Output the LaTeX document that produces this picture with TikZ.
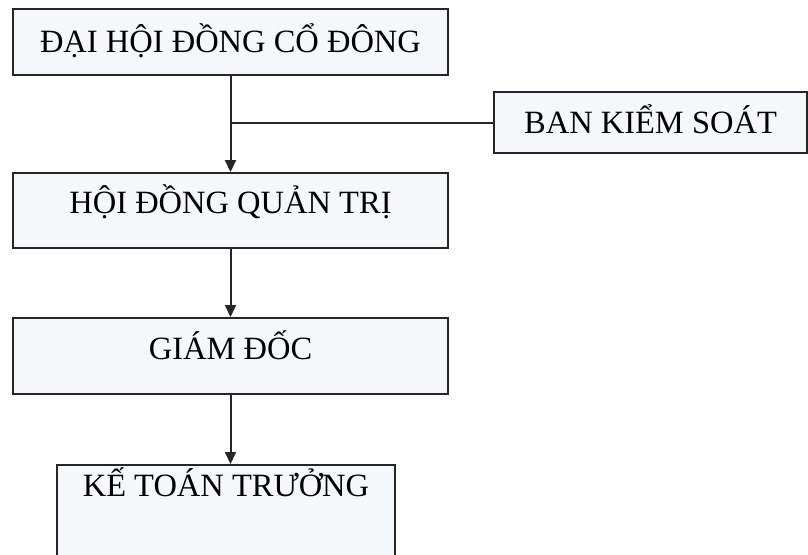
\documentclass[tikz,border=0pt]{standalone}
\usepackage{fontspec}
\setmainfont{Liberation Serif}
\usetikzlibrary{calc,arrows.meta}

\definecolor{nen}{HTML}{F5F8FA}

\begin{document}
\begin{tikzpicture}[x=1pt,y=-1pt,
  hop/.style={draw=black!85,line width=2.4pt,fill=nen,inner sep=0pt,
              font=\fontsize{32.5}{38}\selectfont},
  muiten/.style={draw=black!85,line width=2pt,-{Triangle[length=12pt,width=11pt]}},
  noi/.style={draw=black!85,line width=2pt}]

\useasboundingbox (0,0) rectangle (808,554);

% cac hop: (tam x, dinh y), rong, cao chu, sau chu
\node[hop,anchor=north,minimum width=435pt,text height=43pt,text depth=23pt]
  (dhcd) at (230.5,8) {ĐẠI HỘI ĐỒNG CỔ ĐÔNG};
\node[hop,anchor=north,minimum width=313pt,text height=41pt,text depth=20pt]
  (bks) at (650.5,91) {BAN KIỂM SOÁT};
\node[hop,anchor=north,minimum width=435pt,text height=40pt,text depth=35pt]
  (hdqt) at (230.5,172) {HỘI ĐỒNG QUẢN TRỊ};
\node[hop,anchor=north,minimum width=435pt,text height=41pt,text depth=35pt]
  (gd) at (230.5,317) {GIÁM ĐỐC};
\node[hop,anchor=north,minimum width=338pt,text height=31pt,text depth=90pt]
  (ktt) at (226,464) {KẾ TOÁN TRƯỞNG};

\coordinate (nhanh) at (dhcd.south |- bks.west);
\coordinate (vao) at (gd.south |- ktt.north);

\draw[muiten] (dhcd.south) -- (hdqt.north);
\draw[noi] (nhanh) -- (bks.west);
\draw[muiten] (hdqt.south) -- (gd.north);
\draw[muiten] (gd.south) -- (vao);

\end{tikzpicture}
\end{document}
